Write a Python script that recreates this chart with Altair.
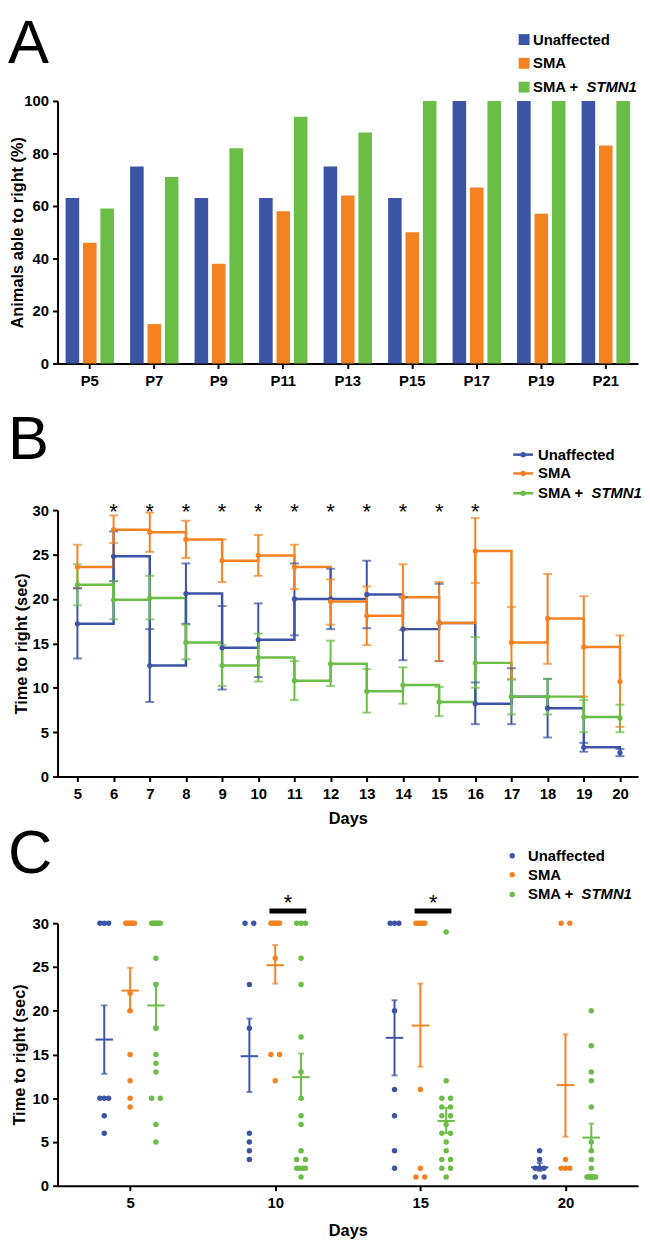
import altair as alt
import pandas as pd

FONT = "Liberation Sans"
groups = ["Unaffected", "SMA", "SMA + STMN1"]
colors = ["#3B54A5", "#F58220", "#6ABD45"]
legend_main = ["Unaffected", "SMA", "SMA +"]
legend_italic = ["", "", "STMN1"]

# ---------------- Panel A data ----------------
ages = ["P5", "P7", "P9", "P11", "P13", "P15", "P17", "P19", "P21"]
pct_unaffected = [63, 75, 63, 63, 75, 63, 100, 100, 100]
pct_sma = [46, 15, 38, 58, 64, 50, 67, 57, 83]
pct_stmn1 = [59, 71, 82, 94, 88, 100, 100, 100, 100]

# ---------------- Panel B data ----------------
days_b = list(range(5, 21))
b_unaff_mean = [17.2, 24.8, 12.5, 20.6, 14.5, 15.4, 20.0, 20.0, 20.5, 16.6, 17.3, 8.2, 9.0, 7.7, 3.3, 2.7]
b_unaff_lo = [13.3, 22.0, 8.4, 17.2, 9.8, 11.2, 15.9, 16.6, 16.7, 13.1, 13.0, 5.9, 5.9, 4.4, 2.8, 2.3]
b_unaff_hi = [21.2, 27.6, 16.6, 24.0, 19.2, 19.5, 24.0, 23.4, 24.3, 20.2, 21.7, 10.6, 12.2, 11.0, 3.8, 3.1]
b_sma_mean = [23.6, 27.8, 27.5, 26.7, 24.3, 24.9, 23.6, 19.7, 18.1, 20.2, 17.3, 25.4, 15.1, 17.8, 14.6, 10.7]
b_sma_lo = [21.2, 26.3, 25.3, 24.6, 21.9, 22.6, 21.1, 17.1, 14.8, 16.5, 13.0, 21.8, 11.0, 12.7, 9.0, 5.6]
b_sma_hi = [26.1, 29.4, 29.7, 28.8, 26.7, 27.2, 26.1, 22.2, 21.4, 23.9, 21.9, 29.1, 19.1, 22.8, 20.3, 15.9]
b_stmn_mean = [21.6, 19.9, 20.1, 15.1, 12.5, 13.4, 10.8, 12.7, 9.6, 10.3, 8.4, 12.8, 9.0, 9.0, 6.7, 6.6]
b_stmn_lo = [19.3, 17.7, 17.7, 13.2, 10.2, 10.7, 8.6, 10.2, 7.2, 8.2, 6.8, 10.0, 7.0, 7.0, 5.0, 5.0]
b_stmn_hi = [23.9, 22.0, 22.6, 17.1, 14.8, 16.1, 13.0, 15.3, 12.1, 12.3, 10.1, 15.7, 10.9, 11.0, 8.6, 8.1]
sig_days_b = [6, 7, 8, 9, 10, 11, 12, 13, 14, 15, 16]

# ---------------- Panel C data ----------------
days_c = [5, 10, 15, 20]
c_unaff = {
    5: [30, 30, 30, 10, 10, 10, 8, 6],
    10: [30, 30, 23, 18, 6, 5, 4, 3],
    15: [30, 30, 30, 20, 11, 8, 4, 2],
    20: [4, 3, 2, 2, 2, 1, 1],
}
c_sma = {
    5: [30, 30, 30, 30, 30, 30, 22, 20, 15, 12, 10, 9],
    10: [30, 30, 30, 30, 30, 30, 30, 26, 15, 15, 12],
    15: [30, 30, 30, 30, 30, 11, 2, 1, 1],
    20: [30, 30, 3, 2, 2, 2],
}
c_stmn = {
    5: [30, 30, 30, 30, 30, 30, 30, 26, 23, 18, 15, 14, 13, 10, 10, 7, 5],
    10: [30, 30, 30, 26, 23, 17, 13, 10, 8, 7, 4, 3, 3, 2, 2, 2, 2, 1],
    15: [29, 12, 10, 10, 9, 9, 8, 8, 7, 6, 6, 5, 4, 3, 3, 2, 2, 1],
    20: [20, 16, 13, 12, 9, 5, 4, 3, 2, 1, 1, 1, 1, 1, 1, 1],
}
c_mean = {"Unaffected": [16.7, 14.8, 16.9, 2.1], "SMA": [22.3, 25.2, 18.3, 11.5], "SMA + STMN1": [20.6, 12.4, 7.4, 5.5]}
c_lo = {"Unaffected": [12.8, 10.7, 12.6, 1.7], "SMA": [19.9, 23.1, 13.6, 5.6], "SMA + STMN1": [18.1, 9.9, 6.0, 3.9]}
c_hi = {"Unaffected": [20.6, 19.1, 21.2, 2.6], "SMA": [24.9, 27.5, 23.1, 17.3], "SMA + STMN1": [23.1, 15.1, 8.9, 7.1]}
sig_days_c = [10, 15]

W = 586
color_scale = alt.Scale(domain=groups, range=colors)


def letter(ch, y):
    return alt.Chart(pd.DataFrame({"t": [ch]})).mark_text(
        font=FONT, fontSize=62, align="left", baseline="alphabetic", color="black"
    ).encode(text="t:N", x=alt.value(-50), y=alt.value(y))


def legend(kind, x0, ys, tx):
    layers = []
    for g, c, y, m, it in zip(groups, colors, ys, legend_main, legend_italic):
        d = alt.Chart(pd.DataFrame({"m": [m], "it": [it]}))
        if kind == "square":
            layers.append(d.mark_square(size=121, color=c, opacity=1).encode(x=alt.value(x0), y=alt.value(y)))
        elif kind == "line":
            layers.append(d.mark_rule(color=c, strokeWidth=2.5).encode(
                x=alt.value(x0 - 10), x2=alt.value(x0 + 10), y=alt.value(y)))
            layers.append(d.mark_circle(size=30, color=c, opacity=1).encode(x=alt.value(x0), y=alt.value(y)))
        else:
            layers.append(d.mark_circle(size=30, color=c, opacity=1).encode(x=alt.value(x0), y=alt.value(y)))
        layers.append(d.mark_text(font=FONT, fontSize=15, fontWeight="bold", align="left",
                                  baseline="middle", color="black").encode(
            text="m:N", x=alt.value(tx), y=alt.value(y)))
        if it:
            layers.append(d.mark_text(font=FONT, fontSize=15, fontWeight="bold", fontStyle="italic",
                                      align="left", baseline="middle", color="black").encode(
                text="it:N", x=alt.value(tx + 54), y=alt.value(y)))
    return layers


# ---------------- Panel A ----------------
dfA = pd.DataFrame({
    "age": ages * 3,
    "group": [g for g in groups for _ in ages],
    "pct": pct_unaffected + pct_sma + pct_stmn1,
})
barsA = alt.Chart(dfA).mark_bar().encode(
    x=alt.X("age:N", sort=ages, title=None,
            scale=alt.Scale(paddingInner=0.25, paddingOuter=0.125),
            axis=alt.Axis(labelAngle=0, labelPadding=5)),
    xOffset=alt.XOffset("group:N", sort=groups, scale=alt.Scale(paddingInner=0.22, paddingOuter=0)),
    y=alt.Y("pct:Q", scale=alt.Scale(domain=[0, 100], nice=False),
            axis=alt.Axis(values=[0, 20, 40, 60, 80, 100], title="Animals able to right (%)", titlePadding=-2)),
    color=alt.Color("group:N", scale=color_scale, legend=None),
)
panelA = alt.layer(barsA, *legend("square", 471, [-62, -38, -14], 480), letter("A", -38)).properties(
    width=W, height=265)

# ---------------- Panel B ----------------
rows = []
for g, mm, lo, hi in [("Unaffected", b_unaff_mean, b_unaff_lo, b_unaff_hi),
                      ("SMA", b_sma_mean, b_sma_lo, b_sma_hi),
                      ("SMA + STMN1", b_stmn_mean, b_stmn_lo, b_stmn_hi)]:
    for d, a, b, c in zip(days_b, mm, lo, hi):
        rows.append({"day": d, "group": g, "mean": a, "lo": b, "hi": c})
dfB = pd.DataFrame(rows)

xB = alt.X("day:Q", scale=alt.Scale(domain=[4.45, 20.5], nice=False, zero=False),
           axis=alt.Axis(values=days_b, format="d", title="Days", titlePadding=9, labelPadding=5,
                         labelOverlap=False))
yB = alt.Y("mean:Q", scale=alt.Scale(domain=[0, 30], nice=False),
           axis=alt.Axis(values=[0, 5, 10, 15, 20, 25, 30], title="Time to right (sec)", titlePadding=3))
colB = alt.Color("group:N", scale=color_scale, legend=None)
baseB = alt.Chart(dfB)
lineB = baseB.mark_line(interpolate="step-after", strokeWidth=2.5).encode(x=xB, y=yB, color=colB)
errB = baseB.mark_rule(strokeWidth=2).encode(x=xB, y="lo:Q", y2="hi:Q", color=colB)
capLoB = baseB.mark_tick(orient="horizontal", size=9, thickness=2).encode(x=xB, y="lo:Q", color=colB)
capHiB = baseB.mark_tick(orient="horizontal", size=9, thickness=2).encode(x=xB, y="hi:Q", color=colB)
ptsB = baseB.mark_circle(size=28, opacity=1).encode(x=xB, y="mean:Q", color=colB)
starsB = alt.Chart(pd.DataFrame({"day": sig_days_b, "lvl": [29.8] * len(sig_days_b), "s": ["*"] * len(sig_days_b)})).mark_text(
    font=FONT, fontSize=22, baseline="middle", color="black").encode(x=xB, y="lvl:Q", text="s:N")
panelB = alt.layer(lineB, errB, capLoB, capHiB, ptsB, starsB,
                   *legend("line", 470, [-56, -37, -17], 485), letter("B", -52)).properties(width=W, height=269)

# ---------------- Panel C ----------------
goff = {"Unaffected": -0.89, "SMA": 0.0, "SMA + STMN1": 0.89}
dot_rows = []
for g, dd in [("Unaffected", c_unaff), ("SMA", c_sma), ("SMA + STMN1", c_stmn)]:
    for day in days_c:
        vals = dd[day]
        for v in sorted(set(vals)):
            k = vals.count(v)
            for i in range(k):
                off = 0.0 if k == 1 else (i / (k - 1) - 0.5) * 0.3
                dot_rows.append({"group": g, "day": day, "value": v, "xp": day + goff[g] + off})
dfDots = pd.DataFrame(dot_rows)

stat_rows = []
for g in groups:
    for j, day in enumerate(days_c):
        xc = day + goff[g]
        stat_rows.append({"group": g, "xc": xc, "xl": xc - 0.3, "xr": xc + 0.3,
                          "mean": c_mean[g][j], "lo": c_lo[g][j], "hi": c_hi[g][j]})
dfStat = pd.DataFrame(stat_rows)

xC = alt.X("xp:Q", scale=alt.Scale(domain=[2.5, 22.5], nice=False, zero=False),
           axis=alt.Axis(values=days_c, format="d", title="Days", titlePadding=12, labelPadding=5))
yC = alt.Y("value:Q", scale=alt.Scale(domain=[0, 30], nice=False),
           axis=alt.Axis(values=[0, 5, 10, 15, 20, 25, 30], title="Time to right (sec)", titlePadding=5))
colC = alt.Color("group:N", scale=color_scale, legend=None)
dotsC = alt.Chart(dfDots).mark_circle(size=30, opacity=1).encode(x=xC, y=yC, color=colC)
baseS = alt.Chart(dfStat)
meanC = baseS.mark_rule(strokeWidth=2).encode(x="xl:Q", x2="xr:Q", y="mean:Q", color=colC)
errC = baseS.mark_rule(strokeWidth=2).encode(x="xc:Q", y="lo:Q", y2="hi:Q", color=colC)
capLoC = baseS.mark_tick(orient="horizontal", size=6, thickness=2).encode(x="xc:Q", y="lo:Q", color=colC)
capHiC = baseS.mark_tick(orient="horizontal", size=6, thickness=2).encode(x="xc:Q", y="hi:Q", color=colC)
dfSig = pd.DataFrame({"day": sig_days_c})
sigC = alt.Chart(dfSig).transform_calculate(
    x1="datum.day - 0.2", x2="datum.day + 1.07", xm="datum.day + 0.44", lvl="31.4", slvl="32.25", s="'*'"
)
sigBar = sigC.mark_rule(strokeWidth=5, color="black").encode(x="x1:Q", x2="x2:Q", y="lvl:Q")
sigStar = sigC.mark_text(font=FONT, fontSize=22, baseline="middle", color="black").encode(
    x="xm:Q", y="slvl:Q", text="s:N")
panelC = alt.layer(dotsC, meanC, errC, capLoC, capHiC, sigBar, sigStar,
                   *legend("dot", 459, [-68, -49, -29], 475), letter("C", -51)).properties(width=W, height=265)

chart = alt.vconcat(panelA, panelB, panelC, spacing=148, bounds="flush").properties(
    padding=0
).configure_view(stroke=None).configure_axis(
    domainColor="black", domainWidth=2, tickColor="black", tickWidth=2, tickSize=5,
    labelFont=FONT, labelFontSize=15, labelFontWeight="bold", labelColor="black",
    titleFont=FONT, titleFontSize=16.5, titleFontWeight="bold", titleColor="black",
    grid=False, labelPadding=4, labelOverlap=False,
)

chart.save("out.html", embed_options={"renderer": "svg", "actions": False})
